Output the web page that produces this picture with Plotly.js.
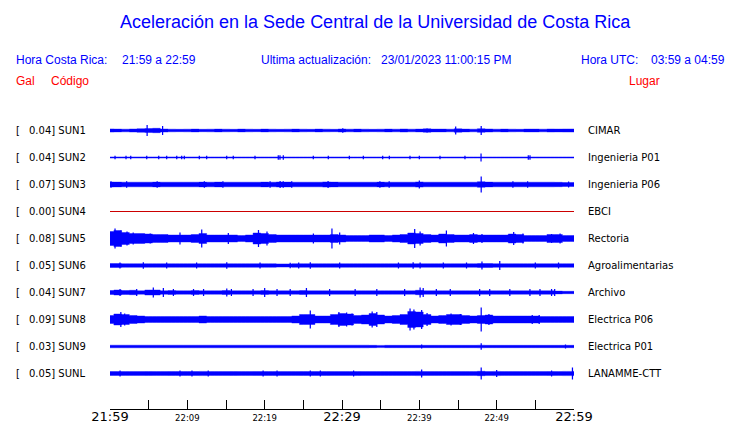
<!DOCTYPE html>
<html>
<head>
<meta charset="utf-8">
<script src="https://cdn.plot.ly/plotly-3.0.1.min.js"></script>
<style>html,body{margin:0;padding:0;background:#fff;}#chart{width:740px;height:423px;}</style>
</head>
<body>
<div id="chart"></div>
<script>
// ---- data (amplitudes are half-envelopes, in screen-pixel units) ----
const minutes = [0,1,2,3,4,5,6,7,8,9,10,11,12,13,14,15,16,17,18,19,20,21,22,23,24,25,26,27,28,29,30,31,32,33,34,35,36,37,38,39,40,41,42,43,44,45,46,47,48,49,50,51,52,53,54,55,56,57,58,59,60];
const tickVals = [0,5,10,15,20,25,30,35,40,45,50,55,60];
const tickLabels = ['21:59','','22:09','','22:19','','22:29','','22:39','','22:49','','22:59'];
const bigTicks = ['21:59','22:29','22:59'];
const codes = ['SUN1','SUN2','SUN3','SUN4','SUN5','SUN6','SUN7','SUN8','SUN9','SUNL'];
const gal = ['0.04','0.04','0.07','0.00','0.08','0.05','0.04','0.09','0.03','0.05'];
const places = ['CIMAR','Ingenieria P01','Ingenieria P06','EBCI','Rectoria','Agroalimentarias','Archivo','Electrica P06','Electrica P01','LANAMME-CTT'];

const envSUN1 = [1.6,1.4,1.3,1.5,1.8,2.0,2.2,1.5,1.3,1.2, 1.3,1.4,1.2,1.3,1.4,1.3,1.2,1.4,1.3,1.2, 1.4,1.3,1.2,1.3,1.4,1.3,1.2,1.4,1.3,1.2, 1.5,1.3,1.4,1.3,1.2,1.3,1.4,1.3,1.5,1.3, 1.4,1.7,1.4,1.4,1.3,1.7,1.4,1.3,1.8,1.5, 1.3,1.4,1.3,1.2,1.4,1.4,1.3,1.5,1.4,1.5,1.5];
const spkTSUN1 = [4.8,6.8,30.1,41.0,44.7,48.0];
const spkASUN1 = [5.5,4.5,2.2,2.0,4.0,4.5];

const envSUN2 = [0.6,0.6,0.6,0.6,0.6,0.6,0.6,0.6,0.6,0.6, 0.6,0.6,0.6,0.6,0.6,0.6,0.6,0.6,0.6,0.6, 0.6,0.6,0.6,0.6,0.6,0.6,0.6,0.6,0.6,0.6, 0.6,0.6,0.6,0.6,0.6,0.6,0.6,0.6,0.6,0.6, 0.6,0.6,0.6,0.6,0.6,0.6,0.6,0.6,0.6,0.6, 0.6,0.6,0.6,0.6,0.6,0.6,0.6,0.6,0.6,0.6,0.6];
const spkTSUN2 = [0.65,2.07,2.68,4.75,6.3,7.33,8.63,9.27,9.61,11.55,12.5,15.09,15.94,18.75,21.76,21.98,22.41,26.29,28.23,30.95,32.76,35.26,36.12,38.79,40.0,42.67,45.9,47.98,54.09,54.31];
const spkASUN2 = [1.8,1.8,1.8,1.8,1.8,1.8,1.8,1.8,1.8,1.8,1.8,1.8,1.8,1.8,2.2,2.2,2.2,1.8,1.8,1.8,1.8,1.8,1.8,1.8,1.8,1.8,1.8,4.0,2.2,2.2];

const envSUN3 = [2.5,2.4,2.3,2.3,2.3,2.3,2.4,2.3,2.3,2.3, 2.3,2.3,2.4,2.3,2.4,2.3,2.3,2.3,2.3,2.3, 2.4,2.3,2.5,2.4,2.3,2.3,2.3,2.3,2.6,2.4, 2.3,2.3,2.3,2.3,2.3,2.4,2.3,2.3,2.3,2.3, 2.6,2.3,2.3,2.3,2.3,2.3,2.3,2.3,2.8,2.4, 2.3,2.3,2.3,2.3,2.3,2.3,2.3,2.3,2.2,2.0,2.0];
const spkTSUN3 = [0.13,2.15,6.1,12.2,14.6,20.7,22.0,22.4,23.5,28.2,34.9,36.1,40.0,48.0,52.1,54.0,59.3];
const spkASUN3 = [3.2,3.2,3.2,3.2,3.2,3.2,3.6,3.2,3.2,3.6,3.2,3.2,4.0,8.0,3.2,3.2,3.0];

const valSUN4 = [0,0,0,0,0,0,0,0,0,0, 0,0,0,0,0,0,0,0,0,0, 0,0,0,0,0,0,0,0,0,0, 0,0,0,0,0,0,0,0,0,0, 0,0,0,0,0,0,0,0,0,0, 0,0,0,0,0,0,0,0,0,0,0];

const envSUN5 = [7,8,6,5,5,4.5,4,4,3.5,3.5, 3.5,4,5,3.5,3.5,3.5,3.5,3,3.5,5.5, 5,4,3.5,3.5,3.5,3.5,3.5,3.5,3.5,4, 3.5,3,3,3,3.5,3.5,3,3.5,4,5.5, 5,4,3.5,4.5,4,3.5,3.5,4,3.5,3.5, 3.5,3.5,4.5,4,3,3,3,4,4,3,3];
const spkTSUN5 = [0.65,1.4,2.2,3.0,5.2,9.05,11.86,15.3,19.2,20.3,26.3,28.7,29.7,39.4,40.1,43.5,47,48.1,52.2,53.4,57.1,58.2];
const spkASUN5 = [10,8,7,6,5,6,9,5.5,8.5,7,5,10,6,9.5,7,8,5.5,4.5,6.5,5,4.5,5];

const envSUN6 = [2,2,1.8,1.8,1.8,1.8,1.8,1.8,1.8,1.8, 1.8,1.8,1.8,1.8,1.8,1.8,1.8,1.8,1.8,1.8, 1.8,1.8,1.6,1.6,1.8,1.8,1.8,1.8,1.8,1.8, 1.8,1.8,1.8,1.8,1.8,1.8,1.8,1.8,1.8,1.8, 1.8,1.8,1.8,1.8,1.8,1.8,1.8,1.8,2,2, 1.8,1.8,1.8,1.8,1.8,1.8,1.8,1.8,1.8,1.8,1.8];
const spkTSUN6 = [1.29,4.31,7.33,11.2,15.1,19.4,23.3,24.4,25.9,29.7,37.3,39.2,40.1,43.1,46.1,48.1,50.4,55,58];
const spkASUN6 = [3,3.2,3,3,3.2,3,2.8,3,3.2,3,3,3.2,3,3,3,4,4.5,3,3];

const envSUN7 = [2,2.5,2,2.2,1.7,2.5,2.5,1.7,2,1.7, 1.7,2,1.7,1.7,1.7,2,1.7,1.7,1.7,1.7, 2,1.7,1.7,1.7,1.7,2,1.7,1.7,1.7,1.7, 1.7,1.7,1.7,1.7,1.7,1.7,1.7,1.7,1.7,1.7, 2.2,1.7,1.7,1.7,1.7,1.7,1.7,1.7,1.7,1.7, 1.7,1.7,1.7,1.7,1.7,1.7,1.7,1.7,1.4,1.2,1.2];
const spkTSUN7 = [1.3,3.45,5.6,6.9,8.2,10.8,12.1,15.1,15.7,18.5,20,21.6,23.3,25.4,28.4,31.7,34.5,38.1,40.1,40.5,42.2,44,47.8,49.1,51.7,54.3,55.6,57.1,57.5];
const spkASUN7 = [3.5,3.5,5,4.5,3.5,3.5,3.5,4,3.5,3.5,4.5,3.5,3.5,4.5,3.5,3.5,3.5,3.5,5,4.5,3.5,3.5,3.5,3.5,3.5,3.5,3.5,3.5,3.5];

const envSUN8 = [4,5.5,5,4,3.5,3,3,3,3,3, 3,3,3.5,3,3,3,3,3,3,3, 3,3,3,3,3.5,5,5,3.5,3.5,5, 6,5.5,4,4.5,6,4.5,3.5,4,5,8, 7.5,5,3.5,4,5,5,4,3.5,4,4.5, 3.5,3.5,3.5,3.5,3.5,3.5,3,3,3,3,3];
const spkTSUN8 = [1.4,1.9,25.9,29.6,30.6,31.3,33.9,34.5,38.8,39.3,40.3,41,44.1,45.3,48,49,54.6,55.5];
const spkASUN8 = [7.5,6,9,7.5,7,6,8,7.5,11,10,9.5,6.5,6,5.5,12,5.5,4.5,4.5];

const envSUN9 = [1.3,1.3,1.3,1.3,1.3,1.3,1.3,1.3,1.3,1.3, 1.3,1.3,1.3,1.3,1.3,1.3,1.3,1.3,1.3,1.3, 1.3,1.3,1.3,1.3,1.3,1.3,1.3,1.3,1.3,1.3, 1.3,1.3,1.3,1.3,1.2,1.1,1.2,1.2,1.2,1.2, 1.2,1.2,1.2,1.2,1.2,1.2,1.2,1.2,1.3,1.2, 1.2,1.2,1.2,1.2,1.2,1.2,1.2,1.2,1.2,1.2,1.2];
const spkTSUN9 = [40.3,48,58.9];
const spkASUN9 = [2,3.2,2];

const envSUNL = [2,2,1.9,1.9,1.9,2,1.9,1.9,2,2, 2,2,2.1,1.9,1.9,1.9,2,1.9,1.9,2, 2,2,1.9,1.9,1.9,2,2,2,2,1.9, 1.9,1.9,2,1.9,1.9,1.9,1.9,1.9,1.9,1.9, 2.1,1.9,1.9,1.9,1.9,1.9,1.9,1.9,2.2,1.9, 2.1,1.9,1.9,1.9,1.9,1.9,1.9,2,1.9,2.1,2.1];
const spkTSUNL = [1.3,9.05,10.6,12.7,19.8,21.6,25.9,27.2,31.5,40.3,48,50,57.1,59.8];
const spkASUNL = [3,3,3,3,3,3,3,3,3,4,6,3.5,3,6];

(function () {
// ---- build ----
const ROWPX = 27;          // pixels between station rows
const k = 1 / ROWPX;       // pixel -> row units
const BLUE = '#0000ff';
const envs = [envSUN1, envSUN2, envSUN3, null, envSUN5, envSUN6, envSUN7, envSUN8, envSUN9, envSUNL];
const spkT = [spkTSUN1, spkTSUN2, spkTSUN3, null, spkTSUN5, spkTSUN6, spkTSUN7, spkTSUN8, spkTSUN9, spkTSUNL];
const spkA = [spkASUN1, spkASUN2, spkASUN3, null, spkASUN5, spkASUN6, spkASUN7, spkASUN8, spkASUN9, spkASUNL];

const traces = [];
codes.forEach((c, i) => {
  const off = -i;
  if (envs[i] === null) {
    traces.push({type:'scatter', mode:'lines', x: minutes, y: valSUN4.map(v => off + v),
      line:{color:'#cc0000', width:1}, hoverinfo:'skip', showlegend:false});
    return;
  }
  const env = envs[i];
  const rev = minutes.slice().reverse();
  const envRev = env.slice().reverse();
  traces.push({type:'scatter', mode:'lines', fill:'toself', fillcolor: BLUE,
    x: minutes.concat(rev),
    y: env.map(v => off + v * k).concat(envRev.map(v => off - v * k)),
    line:{color: BLUE, width:0.4, shape:'hvh'}, hoverinfo:'skip', showlegend:false});
  traces.push({type:'bar', x: spkT[i], y: spkA[i].map(v => 2 * v * k),
    base: spkA[i].map(v => off - v * k), width: 0.16,
    marker:{color: BLUE, line:{width:0}}, hoverinfo:'skip', showlegend:false});
});

// layout helpers (plot area: x 110..574 px, y 100..409 px)
const L = 110, R = 574, T = 100, B = 409;
const px = x => (x - L) / (R - L);
const py = y => (B - y) / (B - T);

const ann = [];
function txt(text, x, y, anchor, size, color, family) {
  ann.push({text, x: px(x), y: py(y), xref:'paper', yref:'paper', xanchor: anchor, yanchor:'middle',
    showarrow:false, borderpad:0, font:{family: family, size: size, color: color}});
}
const SANS = 'Liberation Sans, Arial, sans-serif';
const DJ = 'DejaVu Sans, sans-serif';
txt('Aceleración en la Sede Central de la Universidad de Costa Rica', 375, 22, 'center', 18, BLUE, SANS);
txt('Hora Costa Rica:', 15, 60, 'left', 12, BLUE, SANS);
txt('21:59 a 22:59', 121, 60, 'left', 12, BLUE, SANS);
txt('Ultima actualización:', 260, 60, 'left', 12, BLUE, SANS);
txt('23/01/2023 11:00:15 PM', 380, 60, 'left', 12, BLUE, SANS);
txt('Hora UTC:', 580, 60, 'left', 12, BLUE, SANS);
txt('03:59 a 04:59', 650, 60, 'left', 12, BLUE, SANS);
txt('Gal', 15, 81, 'left', 12, '#ff0000', SANS);
txt('Código', 50, 81, 'left', 12, '#ff0000', SANS);
txt('Lugar', 628, 81, 'left', 12, '#ff0000', SANS);

codes.forEach((c, i) => {
  ann.push({text:'[', x: px(14.5), y: -i, xref:'paper', yref:'y', xanchor:'left', yanchor:'middle',
    showarrow:false, borderpad:0, font:{family: DJ, size:10, color:'#000'}});
  ann.push({text: gal[i] + '] ' + c, x: px(27.5), y: -i, xref:'paper', yref:'y', xanchor:'left', yanchor:'middle',
    showarrow:false, borderpad:0, font:{family: DJ, size:10, color:'#000'}});
  ann.push({text: places[i], x: px(587), y: -i, xref:'paper', yref:'y', xanchor:'left', yanchor:'middle',
    showarrow:false, borderpad:0, font:{family: DJ, size:10, color:'#000'}});
});

const tickText = tickLabels.map(t => t === '' ? '' : (bigTicks.includes(t) ? t : '<span style="font-size:8.5px">' + t + '</span>'));

const yTop = (130.5 - T) / ROWPX;          // row 0 sits at y=130.5 px
const yBot = yTop - (B - T) / ROWPX;

const layout = {
  width: 740, height: 423,
  margin: {l: L, r: 740 - R, t: T, b: 423 - B, pad: 0},
  paper_bgcolor:'#fff', plot_bgcolor:'#fff',
  showlegend:false, barmode:'overlay',
  xaxis: {range:[0,60], tickmode:'array', tickvals: tickVals, ticktext: tickText,
    ticks:'inside', ticklen:9, tickwidth:1, tickcolor:'#000', ticklabelstandoff: -5,
    showline:true, linecolor:'#000', linewidth:1, showgrid:false, zeroline:false,
    tickfont:{family: DJ, size:13, color:'#000'}, fixedrange:true},
  yaxis: {range:[yBot, yTop], visible:false, showgrid:false, zeroline:false, fixedrange:true},
  annotations: ann
};
Plotly.newPlot('chart', traces, layout, {staticPlot:true, displayModeBar:false});
})();
</script>
</body>
</html>
